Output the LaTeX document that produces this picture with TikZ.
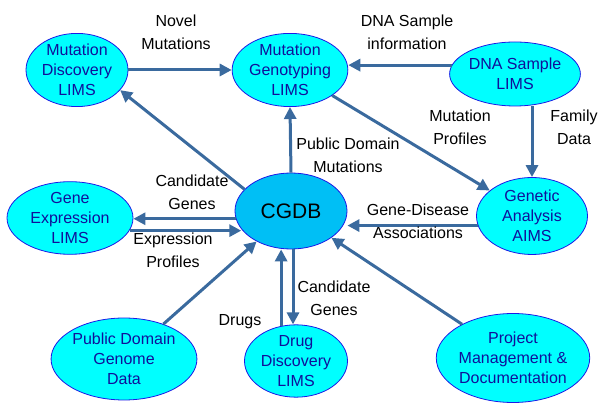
\documentclass[tikz,border=0pt]{standalone}
\usepackage{fontspec}
\setmainfont{Liberation Sans}
\usepackage{tikz}
\usetikzlibrary{arrows.meta,shapes.geometric}
\definecolor{lims}{HTML}{00FFFF}
\definecolor{hub}{HTML}{00BFF5}
\definecolor{limsedge}{HTML}{1A1AE6}
\definecolor{limstext}{HTML}{10109A}
\definecolor{flowblue}{HTML}{3A6A9E}

\begin{document}
\begin{tikzpicture}[
  x=1pt, y=-1pt,
  system/.style={ellipse,draw=limsedge,fill=lims,line width=0.8pt,inner sep=0pt,
    align=center,text=limstext,font=\fontsize{16}{20}\selectfont},
  flow/.style={-{Triangle[length=12pt,width=12pt]},draw=flowblue,line width=3pt},
  tag/.style={align=center,font=\fontsize{16}{23}\selectfont}]
\useasboundingbox (0,0) rectangle (598,403);
\node[system,minimum width=102pt,minimum height=73pt] (mdl) at (77,70) {Mutation\\Discovery\\LIMS};
\node[system,minimum width=113pt,minimum height=72pt] (mgl) at (290,70) {Mutation\\Genotyping\\LIMS};
\node[system,minimum width=111pt,minimum height=64pt] (dsl) at (515,74) {DNA Sample\\LIMS};
\node[system,fill=hub,text=black,font=\fontsize{21}{24}\selectfont,
      minimum width=112pt,minimum height=76pt] (cgdb) at (291,211) {CGDB};
\node[system,minimum width=111pt,minimum height=77pt] (gaa) at (532,216) {Genetic\\Analysis\\AIMS};
\node[system,minimum width=126pt,minimum height=71pt] (gel) at (70,218) {Gene\\Expression\\LIMS};
\node[system,minimum width=138pt,minimum height=82pt] (pdg) at (124,359) {Public Domain\\Genome\\Data};
\node[system,minimum width=103pt,minimum height=72pt] (ddl) at (296,361) {Drug\\Discovery\\LIMS};
\node[system,minimum width=132pt,minimum height=89pt] (pmd) at (513,358) {Project\\Management \&\\Documentation};
\draw[flow] (mdl.east) -- (mgl.west);
\draw[flow] (dsl.172) -- (dsl.172 -| mgl.east);
\draw[flow] (mgl) -- (gaa);
\draw[flow] (gaa.north |- dsl.south) -- (gaa.north);
\draw[flow] (cgdb.north) -- (mgl.south);
\draw[flow] (cgdb.155) -- (mdl.-25);
\draw[flow] (cgdb.-172) -- (cgdb.-172 -| gel.east);
\draw[flow] (gel.-12) -- (gel.-12 -| cgdb.-160);
\draw[flow] (pdg) -- (cgdb);
\draw[flow] (gaa.190) -- (gaa.190 -| cgdb.east);
\draw[flow] (pmd) -- (cgdb);
\draw[flow] (cgdb.-87) -- (cgdb.-87 |- ddl.north);
\draw[flow] (ddl.113) -- (ddl.113 |- cgdb.south);
\node[tag] (novel) at (176,32) {Novel\\Mutations};
\node[tag] (dnainfo) at (407,32) {DNA Sample\\information};
\node[tag] (mutprof) at (460,127) {Mutation\\Profiles};
\node[tag] (family) at (574,127) {Family\\Data};
\node[tag] (pubmut) at (348,155) {Public Domain\\Mutations};
\node[tag] (candup) at (192,192) {Candidate\\Genes};
\node[tag] (exprof) at (173,250) {Expression\\Profiles};
\node[tag] (genedis) at (418,221) {Gene-Disease\\Associations};
\node[tag] (drugs) at (240,322) {Drugs};
\node[tag] (canddown) at (334,298) {Candidate\\Genes};
\end{tikzpicture}
\end{document}
